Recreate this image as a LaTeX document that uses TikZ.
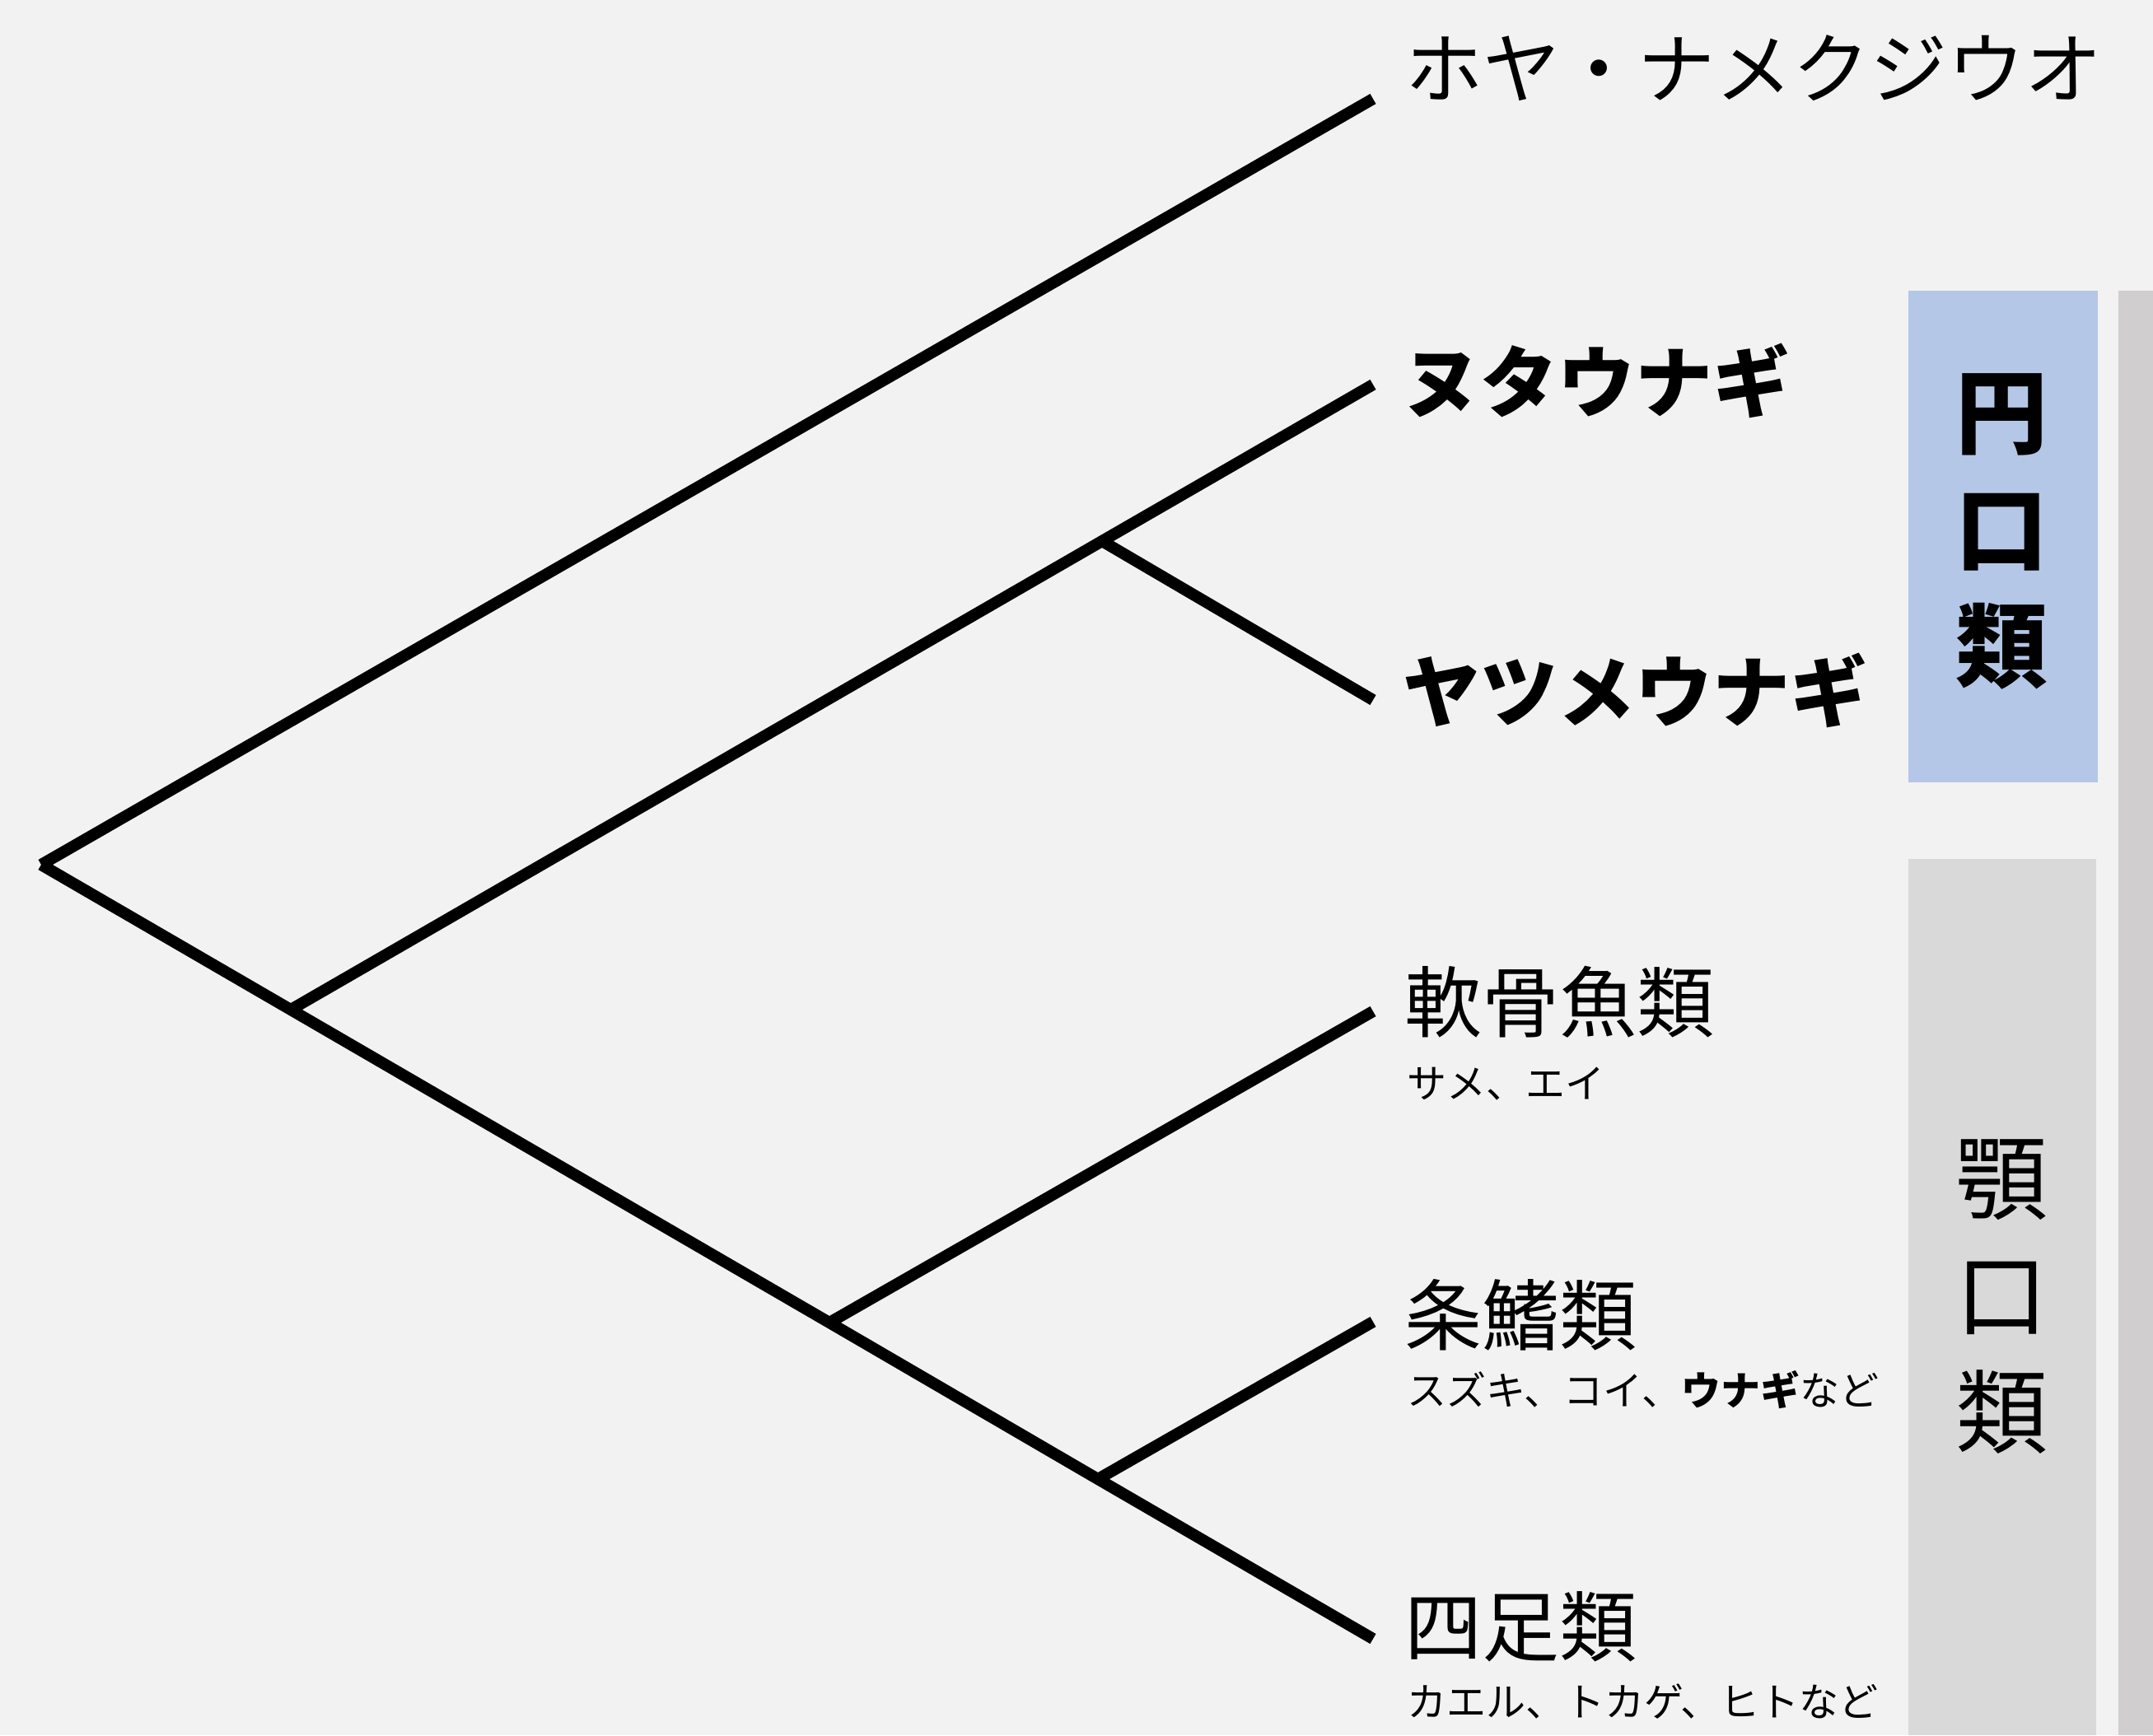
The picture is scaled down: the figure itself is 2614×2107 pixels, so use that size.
\documentclass[tikz,border=0pt]{standalone}
\usepackage{fontspec}
\newfontfamily\jp{Noto Sans CJK JP}
\definecolor{bg}{HTML}{F2F2F2}
\definecolor{cyclo}{HTML}{B4C7E7}
\definecolor{gnatho}{HTML}{D9D9D9}
\definecolor{sidebar}{HTML}{D0CECF}
\tikzset{
  branch/.style={line width=14pt, line cap=butt, line join=miter, black},
  leaf/.style={anchor=west, inner sep=0pt, font=\jp\fontsize{94}{94}\selectfont},
  leafbold/.style={leaf, font=\jp\bfseries\fontsize{94}{94}\selectfont},
  sublabel/.style={anchor=west, inner sep=0pt, font=\jp\fontsize{48}{48}\selectfont},
  grouplabel/.style={align=center, inner sep=0pt, font=\jp\fontsize{112}{142}\selectfont}
}
\begin{document}
\begin{tikzpicture}[x=1pt,y=-1pt]
\path[fill=bg] (0,0) rectangle (2614,2107);
\useasboundingbox (0,0) rectangle (2614,2107);
% side bars
\fill[cyclo] (2317,353) rectangle (2547,950);
\fill[gnatho] (2317,1043) rectangle (2545,2107);
\fill[sidebar] (2572,353) rectangle (2614,2107);
\node[grouplabel, font=\jp\bfseries\fontsize{112}{142}\selectfont] (cyclolabel) at (2430,645) {円\\口\\類};
\node[grouplabel] (gnatholabel) at (2430,1575) {顎\\口\\類};
% tree coordinates
\coordinate (root) at (50,1050);
\coordinate (A) at (353,1226);
\coordinate (B) at (1338,657);
\coordinate (C) at (1007,1606);
\coordinate (D) at (1333,1796);
\coordinate (ciona) at (1667,120);
\coordinate (hag) at (1667,467);
\coordinate (lamp) at (1667,850);
\coordinate (chon) at (1667,1228);
\coordinate (acti) at (1667,1605);
\coordinate (tetr) at (1667,1990);
% branches
\draw[branch] (root) -- (ciona);
\draw[branch] (root) -- (A) -- (C) -- (D) -- (tetr);
\draw[branch] (A) -- (B) -- (hag);
\draw[branch] (B) -- (lamp);
\draw[branch] (C) -- (chon);
\draw[branch] (D) -- (acti);
% labels
\node[leaf] (cionaT) at (1706,83) {ホヤ・ナメクジウオ};
\node[leafbold] (hagT) at (1703,462) {ヌタウナギ};
\node[leafbold] (lampT) at (1703,838) {ヤツメウナギ};
\node[leaf] (chonT) at (1705,1217) {軟骨魚類};
\node[sublabel] (chonS) at (1708,1316) {サメ、エイ};
\node[leaf] (actiT) at (1705,1597) {条鰭類};
\node[sublabel] (actiS) at (1708,1688) {スズキ、コイ、\textbf{ウナギ}など};
\node[leaf] (tetrT) at (1705,1975) {四足類};
\node[sublabel] (tetrS) at (1708,2066) {カエル、トカゲ、ヒトなど};
\end{tikzpicture}
\end{document}
